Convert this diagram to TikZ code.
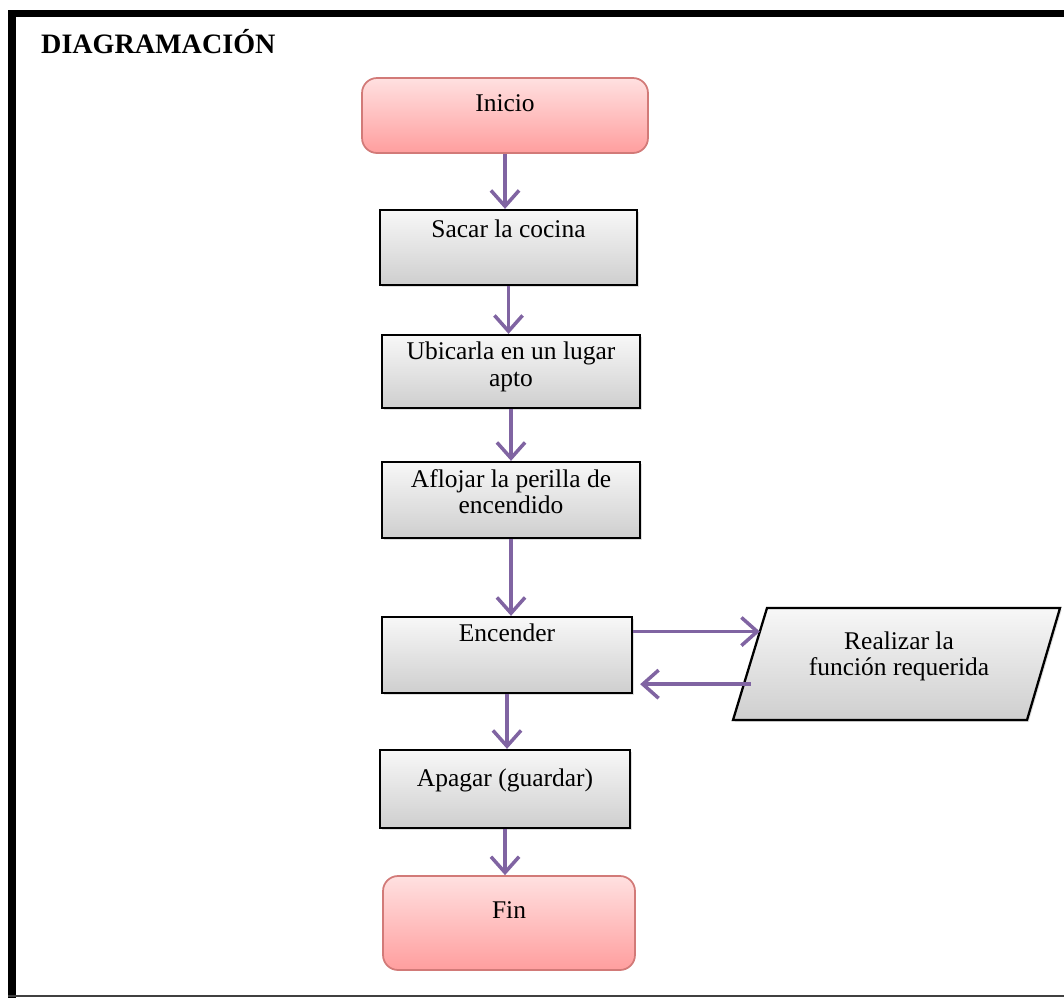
\documentclass[tikz,border=0pt]{standalone}
\usepackage{fontspec}
\setmainfont{Liberation Serif}
\usepackage{tikz}
\usetikzlibrary{shapes.geometric, arrows.meta, positioning, calc, shadows}

\definecolor{flowpurple}{HTML}{8064A2}
\definecolor{termborder}{HTML}{D27A78}

\begin{document}
\begin{tikzpicture}[
    x=0.02cm, y=-0.02cm,
    terminal/.style={draw=termborder, line width=1pt, rectangle, rounded corners=0.3cm,
        top color=red!12, bottom color=red!38, minimum width=#1},
    process/.style={draw, line width=1.3pt, rectangle, top color=gray!6, bottom color=gray!38,
        drop shadow={opacity=0.25, shadow xshift=1pt, shadow yshift=-1pt}},
    txt/.style={font=\fontsize{14.5}{15}\selectfont, align=center, inner sep=0pt, anchor=north},
    arrow/.style={line width=2.2pt, flowpurple, -{Straight Barb[length=9pt, width=16pt, line width=2pt]}}
]
\useasboundingbox (0,0) rectangle (1064,998);

% Frame
\fill (8,10) rectangle (1064,17);
\fill (8,10) rectangle (16,998);
\draw[line width=1.5pt, black!75] (8,996) -- (1064,996);
\node[font=\fontsize{16}{18}\selectfont\bfseries, anchor=west] (title) at (35,42) {DIAGRAMACIÓN};

% Boxes
\node[terminal=5.72cm, minimum height=1.5cm] (inicio) at (505,115.5) {};
\node[process, minimum width=5.14cm, minimum height=1.5cm] (sacar) at (508.5,247.5) {};
\node[process, minimum width=5.16cm, minimum height=1.46cm] (ubicar) at (511,371.5) {};
\node[process, minimum width=5.16cm, minimum height=1.52cm] (aflojar) at (511,500) {};
\node[process, minimum width=5.0cm, minimum height=1.52cm] (encender) at (507,655) {};
\node[process, minimum width=5.0cm, minimum height=1.56cm] (apagar) at (505,789) {};
\node[terminal=5.04cm, minimum height=1.88cm] (fin) at (509,923) {};

% Data box (parallelogram)
\coordinate (ptl) at (767,608);
\coordinate (ptr) at (1060,608);
\coordinate (pbr) at (1027,720);
\coordinate (pbl) at (733,720);
\shade[top color=gray!6, bottom color=gray!38, drop shadow={opacity=0.25, shadow xshift=1pt, shadow yshift=-1pt}]
    (ptl) -- (ptr) -- (pbr) -- (pbl) -- cycle;
\draw[line width=1.3pt, line join=miter] (ptl) -- (ptr) -- (pbr) -- (pbl) -- cycle;

% Texts
\node[txt] (tinicio) at ($(inicio.north)+(0,17)$) {Inicio};
\node[txt] (tsacar) at ($(sacar.north)+(0,11)$) {Sacar la cocina};
\node[txt] (tubicar) at ($(ubicar.north)+(0,8)$) {Ubicarla en un lugar\\apto};
\node[txt] (taflojar) at ($(aflojar.north)+(0,8)$) {Aflojar la perilla de\\encendido};
\node[txt] (tencender) at ($(encender.north)+(0,8)$) {Encender};
\node[txt] (tapagar) at ($(apagar.north)+(0,20)$) {Apagar (guardar)};
\node[txt] (tfin) at ($(fin.north)+(0,26)$) {Fin};
\node[txt] (tfuncion) at (899,631) {Realizar la\\función requerida};

% Arrows
\draw[arrow] (inicio.south) -- (inicio.south |- sacar.north);
\draw[arrow] (sacar.south) -- (sacar.south |- ubicar.north);
\draw[arrow] (ubicar.south) -- (ubicar.south |- aflojar.north);
\draw[arrow] (aflojar.south) -- (aflojar.south |- encender.north);
\draw[arrow] (encender.south) -- (encender.south |- apagar.north);
\draw[arrow] (apagar.south) -- (apagar.south |- fin.north);

\coordinate (goin) at ($(ptl)!0.21!(pbl)$);
\coordinate (goout) at ($(ptl)!0.68!(pbl)$);
\draw[arrow] (encender.east |- goin) -- (goin);
\draw[arrow, shorten >=4pt] ([xshift=4pt]goout) -- (encender.east |- goout);
\end{tikzpicture}
\end{document}
